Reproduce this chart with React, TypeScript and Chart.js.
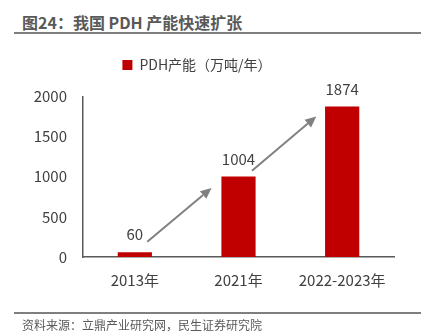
import React, { useEffect, useRef } from "react";
import { Chart, registerables } from "chart.js";

Chart.register(...registerables);

const categories = ["2013年", "2021年", "2022-2023年"];
const capacity = [60, 1004, 1874];
const seriesName = "PDH产能（万吨/年）";
const yTicks = [0, 500, 1000, 1500, 2000];
// arrow annotations in data coordinates: [category position, value]
const arrowStarts: [number, number][] = [[0.12, 190], [1.13, 1075]];
const arrowEnds: [number, number][] = [[0.74, 860], [1.75, 1750]];

const FONT = "'Noto Sans CJK SC', 'Noto Sans', sans-serif";

const labelPlugin = {
  id: "valueLabels",
  afterDatasetsDraw(chart: any) {
    const ctx = chart.ctx;
    const meta = chart.getDatasetMeta(0);
    ctx.save();
    ctx.font = `15px ${FONT}`;
    ctx.fillStyle = "#404040";
    ctx.textAlign = "center";
    ctx.textBaseline = "bottom";
    meta.data.forEach((bar: any, i: number) => {
      ctx.fillText(String(capacity[i]), bar.x, bar.y - 10);
    });
    // arrows
    const xs = chart.scales.x;
    const ys = chart.scales.y;
    ctx.strokeStyle = "#808080";
    ctx.fillStyle = "#808080";
    ctx.lineWidth = 2;
    arrowStarts.forEach((s, i) => {
      const e = arrowEnds[i];
      const x1 = xs.getPixelForValue(s[0]);
      const y1 = ys.getPixelForValue(s[1]);
      const x2 = xs.getPixelForValue(e[0]);
      const y2 = ys.getPixelForValue(e[1]);
      const ang = Math.atan2(y2 - y1, x2 - x1);
      const head = 11;
      const bx = x2 - head * Math.cos(ang);
      const by = y2 - head * Math.sin(ang);
      ctx.beginPath();
      ctx.moveTo(x1, y1);
      ctx.lineTo(bx, by);
      ctx.stroke();
      ctx.beginPath();
      ctx.moveTo(x2, y2);
      ctx.lineTo(bx + 5 * Math.sin(ang), by - 5 * Math.cos(ang));
      ctx.lineTo(bx - 5 * Math.sin(ang), by + 5 * Math.cos(ang));
      ctx.closePath();
      ctx.fill();
    });
    ctx.restore();
  },
};

export default function App() {
  const ref = useRef<HTMLCanvasElement | null>(null);
  useEffect(() => {
    if (!ref.current) return;
    const chart = new Chart(ref.current, {
      type: "bar",
      data: {
        labels: categories,
        datasets: [
          {
            label: seriesName,
            data: capacity,
            backgroundColor: "#C00000",
            borderWidth: 0,
            barPercentage: 0.33,
            categoryPercentage: 1,
          },
        ],
      },
      options: {
        responsive: false,
        animation: false,
        layout: { padding: { top: 33, right: 32, bottom: 0, left: 0 } },
        plugins: {
          tooltip: { enabled: false },
          subtitle: {
            display: true,
            text: " ",
            weight: 500,
            font: { size: 12 },
            padding: 0,
          } as any,
          legend: {
            display: true,
            position: "top",
            labels: {
              boxWidth: 10,
              boxHeight: 10,
              color: "#404040",
              font: { size: 14, family: FONT },
              padding: 25,
            },
          },
        },
        scales: {
          x: {
            grid: { display: false, drawTicks: false },
            border: { color: "#595959", width: 1.5 },
            ticks: { color: "#404040", font: { size: 15, family: FONT }, padding: 14 },
            afterFit(scale: any) {
              scale.height = 79;
            },
          },
          y: {
            min: 0,
            max: 2000,
            afterBuildTicks(scale: any) {
              scale.ticks = yTicks.map((v) => ({ value: v }));
            },
            grid: { display: false, drawTicks: false },
            border: { color: "#595959", width: 1.5 },
            ticks: {
              color: "#404040",
              font: { size: 15, family: FONT },
              padding: 16,
              callback: (v: any) => String(v),
            },
            afterFit(scale: any) {
              scale.width = 83;
            },
          },
        },
      },
      plugins: [labelPlugin],
    });
    return () => chart.destroy();
  }, []);

  return (
    <div style={{ position: "fixed", left: 0, top: 0, width: 426, height: 336, background: "#fff", fontFamily: FONT }}>
      <div style={{ position: "absolute", left: 22, top: 11, fontSize: 16, fontWeight: "bold", color: "#595959", lineHeight: "22px", whiteSpace: "nowrap" }}>
        图24：我国 PDH 产能快速扩张
      </div>
      <div style={{ position: "absolute", left: 14, top: 32, width: 407, height: 2, background: "#7f7f7f" }} />
      <canvas ref={ref} width={426} height={336} style={{ position: "absolute", left: 0, top: 0 }} />
      <div style={{ position: "absolute", left: 14, top: 312, width: 407, height: 2, background: "#7f7f7f" }} />
      <div style={{ position: "absolute", left: 22, top: 316, fontSize: 12, color: "#595959", lineHeight: "18px", whiteSpace: "nowrap" }}>
        资料来源：立鼎产业研究网，民生证券研究院
      </div>
    </div>
  );
}
